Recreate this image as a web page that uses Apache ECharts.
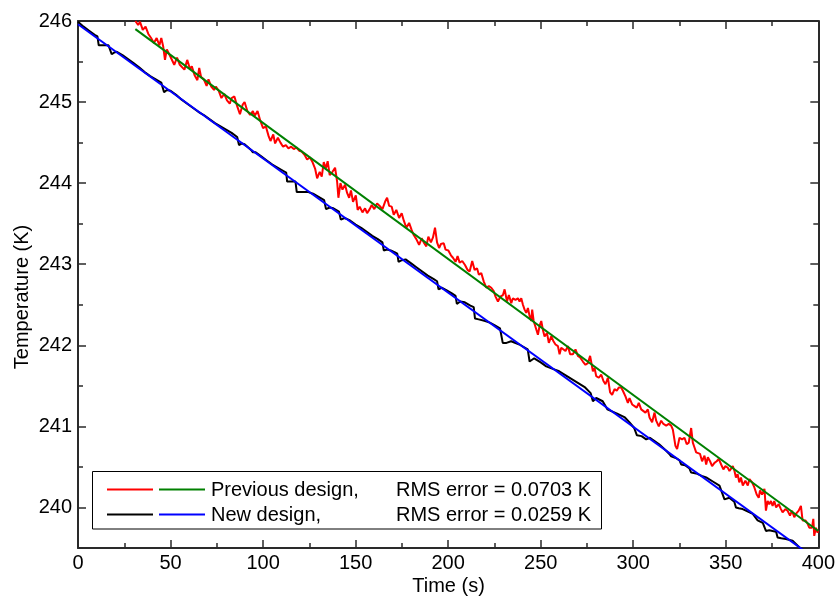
<!DOCTYPE html>
<html>
<head>
<meta charset="utf-8">
<script src="https://cdn.jsdelivr.net/npm/echarts@6/dist/echarts.min.js"></script>
<style>
  html, body { margin: 0; padding: 0; background: #fff; }
  #chart { width: 838px; height: 596px; }
</style>
</head>
<body>
<div id="chart"></div>
<script>
// Measured temperature, previous design (s, K)
const redTime = [31, 32.5, 33.5, 35, 36.5, 38, 39.5, 41, 42.5, 44, 45, 46, 47, 48, 49.5, 50.5, 52, 53.5, 55, 56,
  57.5, 59, 60.5, 61.5, 63, 64.5, 65.5, 66.5, 68, 69.5, 70.5, 72, 73.5, 74.5, 76, 77.5, 79, 80.5, 82, 83,
  84.5, 86, 87.5, 89, 90, 91.5, 93, 94.5, 95.5, 97, 98.5, 100, 101.5, 103, 104, 105.5, 106.5, 108,
  109.4, 110.8, 112.3, 113.7, 115.2, 116.6, 118, 119.5, 120.9, 122.4, 123.8, 125.2, 126.7, 128.1, 129.2, 130.6,
  131.7, 132.8, 133.9, 134.9, 136, 137.5, 138.9, 140, 140.7, 141.8, 142.9, 144.3, 145.4, 146.5, 147.5, 148.6,
  150.1, 151.1, 152.2, 153.7, 155.1, 156.2, 157.6, 158.7, 160.1, 161.6, 163, 164.5, 165.9, 167, 168.1, 169.5,
  170.6, 172, 173.5, 174.9, 176, 177.4, 178.9, 180.3, 181.4, 182.8, 184.3, 185.7, 186.8, 188.2, 189.3, 190.7,
  191.8, 192.9, 194, 195.1, 196.1, 197.6, 198.6, 200.1, 201.5, 202.6, 204, 205.1, 206.2, 207.6, 209.1, 210.5, 211.6,
  213, 214.3, 215.6, 216.6, 217.9, 219.2, 220.6, 222, 223.3, 224.6, 225.6, 226.9, 228.2, 229.6, 230.5, 231.8,
  232.8, 234.1, 235, 236.4, 237.7, 238.6, 239.5, 240.4, 241.3, 242.2, 243.1, 244, 244.9, 245.4, 246.2, 247.2,
  248.5, 249.4, 250.3, 251.2, 252.1, 253.4, 254.4, 255.7, 256.9, 258, 259.3, 260.2, 261.1, 262, 263.4, 264.7,
  265.9, 267.4, 268.8, 270.1, 271.3, 272.8, 274.2, 275.5, 276.7, 278.2, 279.1, 280, 281.4, 282.7, 283.9, 285,
  286.3, 287.5, 288.6, 289.9, 291.1, 292.2, 293.5, 294.4, 295.8, 297.1, 298, 299.4, 300.7, 301.9, 303, 304.3,
  305.2, 306.6, 307.9, 308.8, 310.2, 311.5, 312.4, 313.8,
  315.1, 316.3, 317.8, 319.2, 320.5, 321.4, 322.8, 323.7, 325, 326.4, 327.7, 328.9, 330, 331.3, 332.2, 333.1,
  334, 334.9, 336.1, 337.2, 338.5, 339.4, 340.3, 341.5, 342.6, 343.9, 345.1, 346.2, 347.5, 348.7, 349.8, 351.1,
  352, 352.9, 353.8, 354.7, 355.5, 356.4, 357.3, 358.2, 359.2, 360.6, 361.9, 362.8, 364.2, 365.4, 366.7, 367.8,
  368.5, 369.6, 370.9, 371.7, 372.6, 373.5, 374.4, 375.3, 376.2, 377.2, 378.6, 379.8, 380.7, 382.2, 383.4, 384.7,
  385.8, 387, 387.9, 389.4, 390.6, 391.5, 393, 394.2, 395.1, 396.6, 397.3, 397.8, 398.7, 399.6, 400];
const redTemp = [246.00, 245.95, 245.99, 245.89, 245.93, 245.84, 245.79, 245.73, 245.79, 245.70, 245.79, 245.69, 245.52, 245.65, 245.58, 245.58, 245.46, 245.55, 245.46, 245.48,
  245.40, 245.52, 245.41, 245.44, 245.33, 245.27, 245.42, 245.31, 245.28, 245.20, 245.28, 245.19, 245.15, 245.19, 245.14, 245.05, 245.10, 245.02, 244.98, 245.05,
  245.07, 244.95, 244.85, 244.97, 245.00, 244.89, 244.84, 244.89, 244.83, 244.89, 244.77, 244.68, 244.70, 244.58, 244.52, 244.60, 244.49, 244.56,
  244.50, 244.45, 244.47, 244.43, 244.45, 244.42, 244.44, 244.40, 244.39, 244.35, 244.29, 244.32, 244.26, 244.18, 244.06, 244.14,
  244.08, 244.26, 244.18, 244.27, 244.10, 244.14, 244.19, 244.02, 243.82, 244.00, 243.92, 243.98, 243.88, 243.82, 243.91, 243.77,
  243.85, 243.67, 243.71, 243.64, 243.69, 243.63, 243.68, 243.73, 243.68, 243.75, 243.72, 243.68, 243.77, 243.82, 243.72, 243.71,
  243.61, 243.67, 243.57, 243.63, 243.54, 243.45, 243.51, 243.42, 243.36, 243.31, 243.24, 243.32, 243.27, 243.22, 243.34, 243.27,
  243.33, 243.45, 243.27, 243.20, 243.25, 243.26, 243.18, 243.17, 243.11, 243.08, 243.03, 243.10, 243.02, 243.04, 242.99, 242.93, 242.91,
  243.04, 242.93, 242.95, 242.87, 242.89, 242.79, 242.71, 242.73, 242.71, 242.67, 242.60, 242.54, 242.60, 242.62, 242.69, 242.54,
  242.62, 242.52, 242.58, 242.56, 242.58, 242.54, 242.58, 242.50, 242.44, 242.40, 242.46, 242.36, 242.30, 242.44, 242.30, 242.28,
  242.13, 242.24, 242.30, 242.19, 242.11, 242.15, 242.03, 242.11, 242.05, 242.01, 241.99, 241.89, 241.97, 241.99, 241.93, 241.99,
  241.89, 241.89, 241.95, 241.87, 241.85, 241.80, 241.76, 241.78, 241.87, 241.68, 241.72, 241.62, 241.60, 241.64, 241.56, 241.52,
  241.60, 241.42, 241.39, 241.46, 241.44, 241.48, 241.48, 241.44, 241.37, 241.29, 241.35, 241.27, 241.25, 241.23, 241.29, 241.21,
  241.19, 241.17, 241.21, 241.11, 241.05, 241.17, 241.07, 241.00,
  241.07, 241.03, 241.01, 241.03, 241.01, 240.96, 240.76, 240.72, 240.86, 240.84, 240.86, 240.78, 240.80, 240.98, 240.80, 240.74,
  240.68, 240.70, 240.66, 240.57, 240.64, 240.53, 240.62, 240.57, 240.51, 240.55, 240.57, 240.60, 240.53, 240.47, 240.51, 240.49,
  240.45, 240.47, 240.51, 240.45, 240.37, 240.41, 240.31, 240.37, 240.27, 240.33, 240.27, 240.35, 240.31, 240.25, 240.16, 240.12,
  240.21, 240.16, 240.23, 239.96, 240.08, 240.04, 240.08, 240.02, 240.08, 240.00, 240.04, 239.98, 239.94, 239.98, 239.96, 239.90,
  239.96, 239.88, 239.92, 239.96, 240.02, 239.84, 239.84, 239.80, 239.75, 239.75, 239.86, 239.65, 239.75, 239.69, 239.72];

// Measured temperature, new design (s, K)
const blackTime = [0, 3, 6, 9, 10.5, 11.2, 13.5, 14.5, 16.5, 17.5, 18.2, 19.5, 21, 24, 27, 30, 33, 36, 39, 42,
  45, 45.8, 46.5, 48, 50, 53, 56, 59, 62, 65, 68, 71, 74, 77, 80, 83, 86, 87, 88.5, 90,
  92, 93.5, 94.5, 96, 99, 102, 105, 108, 111, 112.5, 113, 115.5, 117.5, 118.2, 122, 124.5, 127, 130, 133, 134,
  136, 138, 141, 142, 144, 147, 150, 153, 156, 159, 162, 164.5, 165.2, 167, 169, 171, 172.5, 173.2, 175, 177,
  180, 183, 186, 189, 192, 194, 194.8, 196.5, 199, 202, 204, 204.7, 206.5, 209, 212, 213.8, 214.5, 216.5, 220, 222.5,
  225, 228, 229, 229.5, 231.5, 234, 238.5, 243, 244, 246.5, 250, 253, 256.5, 260, 263.5, 267, 270.5, 274, 277, 278.2,
  280, 283.5, 286, 291, 295.5, 298, 300.5, 302, 304.5, 307, 309, 314, 317.8, 319.5, 320.5, 323, 325, 325.9, 328, 330.4,
  331.3, 334, 337, 339.4, 343, 346.6, 349.3, 351.9, 354.6, 355.5, 357, 359.1, 362, 364.6, 367.2, 370, 371.7, 373.5, 375.3, 377.2,
  378, 380, 382.5, 386.1, 389.7, 392];
const blackTemp = [245.99, 245.93, 245.88, 245.83, 245.81, 245.70, 245.70, 245.72, 245.70, 245.69, 245.59, 245.61, 245.62, 245.58, 245.53, 245.48, 245.43, 245.37, 245.32, 245.28,
  245.24, 245.23, 245.12, 245.15, 245.14, 245.09, 245.03, 244.98, 244.93, 244.88, 244.84, 244.79, 244.74, 244.70, 244.66, 244.62, 244.57, 244.47, 244.49, 244.48,
  244.44, 244.41, 244.38, 244.38, 244.33, 244.28, 244.23, 244.19, 244.15, 244.13, 244.02, 244.02, 244.02, 243.89, 243.89, 243.89, 243.87, 243.83, 243.79, 243.68,
  243.70, 243.69, 243.65, 243.55, 243.57, 243.54, 243.49, 243.45, 243.40, 243.35, 243.31, 243.27, 243.17, 243.18, 243.17, 243.15, 243.13, 243.03, 243.05, 243.06,
  243.01, 242.96, 242.91, 242.86, 242.82, 242.79, 242.69, 242.71, 242.68, 242.64, 242.61, 242.51, 242.54, 242.53, 242.49, 242.47, 242.33, 242.32, 242.30, 242.28,
  242.25, 242.21, 242.20, 242.03, 242.03, 242.05, 242.01, 241.95, 241.80, 241.84, 241.79, 241.74, 241.71, 241.68, 241.63, 241.58, 241.53, 241.48, 241.41, 241.31,
  241.35, 241.31, 241.21, 241.16, 241.11, 241.05, 240.98, 240.89, 240.88, 240.84, 240.86, 240.78, 240.70, 240.66, 240.63, 240.61, 240.58, 240.53, 240.52, 240.48,
  240.43, 240.42, 240.39, 240.37, 240.32, 240.27, 240.10, 240.12, 240.07, 240.00, 239.99, 239.98, 239.95, 239.92, 239.84, 239.81, 239.71, 239.72, 239.71, 239.70,
  239.63, 239.62, 239.61, 239.59, 239.51, 239.47];

// Linear fits (s, K)
const prevFitTime = [31, 400];
const prevFitTemp = [245.90, 239.71];
const newFitTime = [0, 400];
const newFitTemp = [245.96, 239.34];

// Axis ticks
const yMajorTicks = [240, 241, 242, 243, 244, 245, 246];
const yMinorTicks = [239.5, 240.5, 241.5, 242.5, 243.5, 244.5, 245.5];

// Legend text
const legendRows = [
  { name: 'Previous design,', rms: 'RMS error = 0.0703 K', data: '#ff0000', fit: '#008000' },
  { name: 'New design,', rms: 'RMS error = 0.0259 K', data: '#000000', fit: '#0000ff' }
];

const FONT = "'Liberation Sans', Arial, Helvetica, sans-serif";
const AX = '#2a2a2a';
const pairs = (ts, vs) => ts.map((t, i) => [t, vs[i]]);

function xAxisDef(pos, labels) {
  return {
    type: 'value', position: pos, min: 0, max: 400, interval: 50,
    axisLine: { show: true, onZero: false, lineStyle: { color: AX, width: 2 } },
    axisTick: { show: true, inside: true, length: 8, lineStyle: { color: AX, width: 1.5 } },
    minorTick: { show: true, splitNumber: 2, length: 5, lineStyle: { color: AX, width: 1.5 } },
    axisLabel: { show: labels, margin: 5, fontSize: 20, color: '#000', fontFamily: FONT },
    splitLine: { show: false }, minorSplitLine: { show: false }
  };
}
function yAxisDef(pos, ticks, len, line, labels) {
  return {
    type: 'value', position: pos, min: 239.5, max: 246,
    axisLine: { show: line, onZero: false, lineStyle: { color: AX, width: 2 } },
    axisTick: { show: true, inside: true, length: len, customValues: ticks, lineStyle: { color: AX, width: 1.5 } },
    axisLabel: labels
      ? { show: true, customValues: ticks, margin: 6, fontSize: 20, color: '#000', fontFamily: FONT, padding: [6, 0, 0, 0] }
      : { show: false },
    splitLine: { show: false }
  };
}

const legendGraphics = [
  { type: 'rect', shape: { x: 92.5, y: 471.5, width: 509, height: 57.5 },
    style: { fill: '#fff', stroke: '#000', lineWidth: 1 }, z: 100 }
];
legendRows.forEach((row, i) => {
  const y = 489.5 + i * 25;
  legendGraphics.push(
    { type: 'line', shape: { x1: 107, y1: y, x2: 153, y2: y }, style: { stroke: row.data, lineWidth: 2 }, z: 101 },
    { type: 'line', shape: { x1: 159, y1: y, x2: 205, y2: y }, style: { stroke: row.fit, lineWidth: 2 }, z: 101 },
    { type: 'text', x: 211, y: y + 0.5, style: { text: row.name, fill: '#000', font: '20px ' + FONT, textAlign: 'left', textVerticalAlign: 'middle' }, z: 101 },
    { type: 'text', x: 396, y: y + 0.5, style: { text: row.rms, fill: '#000', font: '20px ' + FONT, textAlign: 'left', textVerticalAlign: 'middle' }, z: 101 }
  );
});

const chart = echarts.init(document.getElementById('chart'), null, { renderer: 'canvas' });
chart.setOption({
  animation: false,
  backgroundColor: '#fff',
  grid: { left: 78, right: 19, top: 21, bottom: 48, containLabel: false },
  xAxis: [xAxisDef('bottom', true), xAxisDef('top', false)],
  yAxis: [
    yAxisDef('left', yMajorTicks, 8, true, true),
    yAxisDef('left', yMinorTicks, 5, false, false),
    yAxisDef('right', yMajorTicks, 8, true, false),
    yAxisDef('right', yMinorTicks, 5, false, false)
  ],
  series: [
    { name: 'Previous design', type: 'line', data: pairs(redTime, redTemp), showSymbol: false,
      lineStyle: { color: '#ff0000', width: 2 }, z: 2 },
    { name: 'Previous design fit', type: 'line', data: pairs(prevFitTime, prevFitTemp), showSymbol: false,
      lineStyle: { color: '#008000', width: 2 }, z: 3 },
    { name: 'New design', type: 'line', data: pairs(blackTime, blackTemp), showSymbol: false,
      lineStyle: { color: '#000000', width: 2 }, z: 2 },
    { name: 'New design fit', type: 'line', data: pairs(newFitTime, newFitTemp), showSymbol: false,
      lineStyle: { color: '#0000ff', width: 2 }, z: 3 }
  ],
  graphic: [
    ...legendGraphics,
    { type: 'text', x: 448.5, y: 586, style: { text: 'Time (s)', fill: '#000', font: '20px ' + FONT, textAlign: 'center', textVerticalAlign: 'middle' } },
    { type: 'text', x: 22, y: 297, rotation: Math.PI / 2, style: { text: 'Temperature (K)', fill: '#000', font: '20px ' + FONT, textAlign: 'center', textVerticalAlign: 'middle' } }
  ]
});
</script>
</body>
</html>
